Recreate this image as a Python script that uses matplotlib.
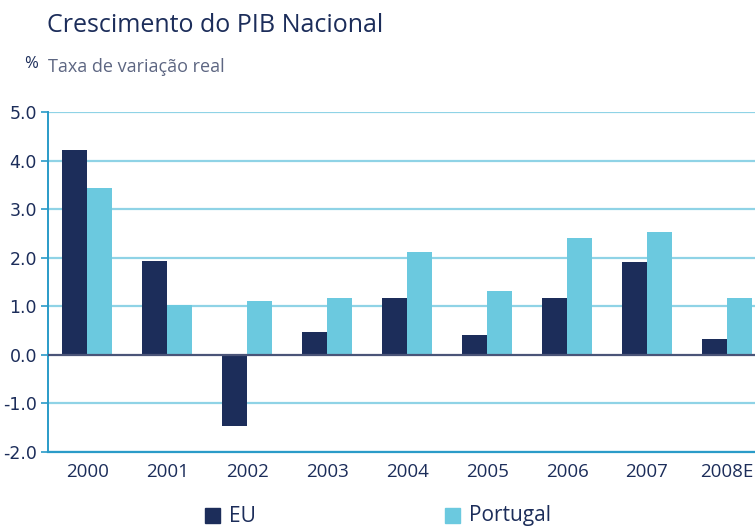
import numpy as np
import matplotlib
matplotlib.use('Agg')
import matplotlib.pyplot as plt
from matplotlib.patches import Rectangle

years = ['2000', '2001', '2002', '2003', '2004', '2005', '2006', '2007', '2008E']
eu = [4.22, 1.93, -1.46, 0.47, 1.17, 0.41, 1.17, 1.91, 0.33]
portugal = [3.44, 1.03, 1.11, 1.17, 2.12, 1.32, 2.41, 2.53, 1.17]
yticks = [-2.0, -1.0, 0.0, 1.0, 2.0, 3.0, 4.0, 5.0]

navy = '#1c2d5a'
light = '#6bc9df'
grid_col = '#8fd3e6'
spine_col = '#2a9bc8'
text_col = '#1c2d5a'

plt.rcParams['font.family'] = ['Open Sans', 'DejaVu Sans']

fig = plt.figure(figsize=(7.55, 5.26), dpi=100)
ax = fig.add_axes([48 / 755, 74 / 526, 1 - 48 / 755, 340 / 526])

x = np.arange(len(years))
w = 0.3125
ax.set_axisbelow(True)
for yv in yticks:
    if yv != 0:
        ax.axhline(yv, color=grid_col, lw=1.6, zorder=0)
ax.bar(x - w / 2, eu, w, color=navy, zorder=2)
ax.bar(x + w / 2, portugal, w, color=light, zorder=2)
ax.axhline(0, color='#4a5478', lw=1.6, zorder=3)

ax.set_xlim(-0.49, len(years) - 1 + 0.35)
ax.set_ylim(-2.0, 5.0)
ax.set_yticks(yticks)
ax.set_yticklabels([f'{v:.1f}' for v in yticks], family='DejaVu Sans', fontsize=12.5, color=text_col)
ax.set_xticks(x)
ax.set_xticklabels(years, fontsize=13.5, color=text_col)
ax.tick_params(axis='x', length=0, pad=8)
ax.tick_params(axis='y', length=5, width=1.2, color=spine_col, pad=3)

for s in ['top', 'right']:
    ax.spines[s].set_visible(False)
ax.spines['left'].set_color(spine_col)
ax.spines['left'].set_linewidth(1.4)
ax.spines['bottom'].set_color(spine_col)
ax.spines['bottom'].set_linewidth(1.6)

fig.text(47 / 755, 1 - 26 / 526, 'Crescimento do PIB Nacional', fontsize=18, color=text_col, va='center', ha='left')
fig.text(24 / 755, 1 - 64 / 526, '%', fontsize=12, color=text_col, va='center', ha='left')
fig.text(48 / 755, 1 - 67 / 526, 'Taxa de variação real', fontsize=13, color='#5d6682', va='center', ha='left')

# legend
fig.patches.append(Rectangle((205 / 755, 1 - 523 / 526), 15 / 755, 15 / 526, transform=fig.transFigure, color=navy))
fig.text(229 / 755, 1 - 516 / 526, 'EU', fontsize=15, color=text_col, va='center', ha='left')
fig.patches.append(Rectangle((445 / 755, 1 - 523 / 526), 15 / 755, 15 / 526, transform=fig.transFigure, color=light))
fig.text(469 / 755, 1 - 516 / 526, 'Portugal', fontsize=15, color=text_col, va='center', ha='left')

plt.savefig('out.png', dpi=100)
